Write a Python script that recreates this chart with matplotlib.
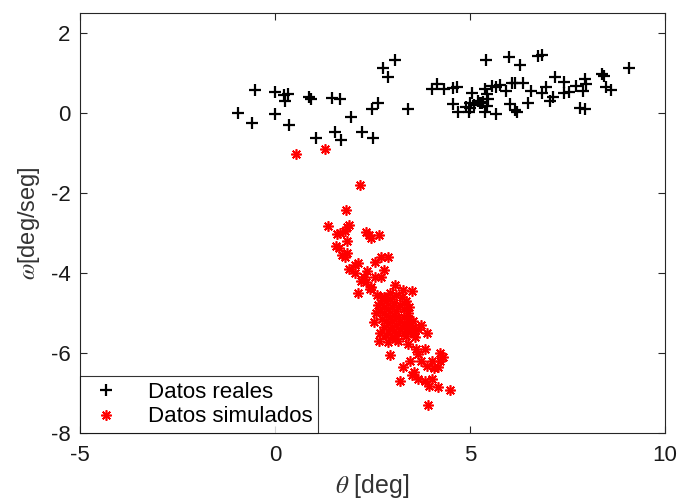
import matplotlib
matplotlib.use("Agg")
import matplotlib.pyplot as plt

plt.rcParams['font.family'] = ['Liberation Sans', 'DejaVu Sans']
plt.rcParams['mathtext.fontset'] = 'stix'
plt.rcParams['axes.unicode_minus'] = False

# Measured angle / angular velocity
theta_real = [-0.95, -0.52, -0.59, 0.00, -0.01, 0.22, 0.33, 0.25, 0.35, 0.87,
              0.92, 1.05, 1.47, 1.66, 1.55, 1.70, 1.96, 2.22, 2.51, 2.50,
              2.63, 2.76, 3.09, 2.91, 3.42, 4.03, 4.15, 4.33, 4.57, 4.68,
              4.56, 4.70, 4.98, 4.91, 4.99, 5.06, 5.26, 5.34, 5.40, 5.38,
              5.43, 5.47, 5.43, 5.38, 5.56, 5.68, 5.77, 5.68, 5.92, 6.01,
              6.07, 6.15, 6.03, 6.15, 6.21, 6.28, 6.35, 6.49, 6.56, 6.75,
              6.84, 6.84, 6.95, 7.05, 7.14, 7.18, 7.41, 7.41, 7.54, 7.73,
              7.90, 7.96, 7.99, 7.82, 7.95, 8.38, 8.45, 8.50, 8.61, 9.09,
              5.10, 5.20, 5.30, 5.00]
omega_real = [0.00, 0.58, -0.26, 0.52, -0.02, 0.44, 0.47, 0.29, -0.30, 0.39,
              0.35, -0.62, 0.37, 0.34, -0.47, -0.68, -0.10, -0.47, -0.62, 0.11,
              0.25, 1.13, 1.32, 0.91, 0.11, 0.60, 0.72, 0.61, 0.63, 0.65,
              0.22, 0.02, 0.03, 0.14, 0.26, 0.50, 0.26, 0.28, 1.32, 0.60,
              0.47, 0.35, 0.18, 0.02, 0.68, 0.64, 0.69, -0.02, 0.55, 1.40,
              0.74, 0.74, 0.22, 0.08, 0.03, 1.21, 0.74, 0.26, 0.55, 1.42,
              1.44, 0.51, 0.66, 0.31, 0.39, 0.91, 0.78, 0.50, 0.53, 0.68,
              0.55, 0.86, 0.72, 0.12, 0.10, 0.97, 0.93, 0.64, 0.57, 1.13,
              0.20, 0.30, 0.24, 0.12]

# Simulated angle / angular velocity
theta_sim = [0.54, 1.28, 2.17, 1.83, 1.37, 1.90, 1.86, 1.79, 1.67, 1.60,
             2.34, 2.40, 2.46, 2.66, 1.84, 1.56, 1.65, 1.86, 1.79, 1.73,
             2.57, 2.73, 2.90, 1.90, 2.06, 2.12, 2.79, 2.73, 2.29, 2.34,
             2.57, 2.12, 3.07, 3.29, 3.52, 2.46, 2.62, 2.79, 2.54, 2.68,
             2.90, 3.07, 2.96, 3.40, 3.74, 3.91, 3.68, 3.35, 3.57, 3.63,
             3.68, 3.46, 3.74, 4.02, 4.24, 4.24, 4.30, 4.18, 3.29, 3.57,
             3.21, 3.52, 3.68, 3.85, 4.02, 3.96, 4.18, 4.50, 3.93, 3.91,
             4.07, 3.85,
             2.75, 2.85, 2.95, 3.05, 2.80, 2.90, 3.00, 3.10, 2.70, 2.85,
             2.95, 3.05, 3.15, 2.75, 2.90, 3.00, 3.10, 3.20, 2.80, 2.95,
             3.05, 3.25, 3.35, 3.15, 2.85, 3.00, 3.30, 3.40, 3.20, 3.30,
             3.40, 3.35, 3.25, 3.45, 3.50, 3.55, 3.10, 2.95, 3.15, 2.70,
             2.65, 3.30, 3.45, 2.60, 3.55, 3.60, 2.20, 2.45, 2.35, 2.05]
omega_sim = [-1.02, -0.91, -1.80, -2.42, -2.83, -2.80, -2.86, -2.94, -3.00, -3.02,
             -2.97, -3.06, -3.12, -3.06, -3.20, -3.33, -3.38, -3.49, -3.60, -3.55,
             -3.72, -3.60, -3.60, -3.89, -3.81, -3.76, -3.93, -4.09, -4.09, -4.22,
             -4.09, -4.51, -4.30, -4.42, -4.46, -4.34, -4.55, -4.59, -5.22, -5.70,
             -5.72, -5.66, -6.05, -5.78, -5.29, -5.49, -5.41, -5.58, -5.49, -5.91,
             -6.03, -6.19, -6.19, -6.19, -6.19, -5.99, -6.11, -6.36, -6.36, -6.48,
             -6.69, -6.56, -6.65, -6.69, -6.65, -6.82, -6.85, -6.92, -7.29, -6.32,
             -6.38, -5.91,
             -4.62, -4.70, -4.65, -4.75, -4.85, -4.90, -4.85, -4.95, -4.95, -5.05,
             -5.10, -5.05, -5.10, -5.15, -5.25, -5.20, -5.30, -5.20, -5.35, -5.40,
             -5.45, -5.35, -5.30, -5.50, -5.55, -5.60, -5.50, -5.45, -4.80, -4.90,
             -5.00, -4.70, -4.60, -5.15, -5.30, -5.20, -4.55, -4.50, -5.70, -5.50,
             -4.80, -5.10, -4.85, -5.00, -5.45, -5.60, -4.20, -4.40, -3.95, -4.00]

fig = plt.figure(figsize=(6.84, 5.04), dpi=100)
ax = fig.add_axes([0.117, 0.141, 0.855, 0.833])

# asterisk marker: plus and cross spokes combined
asterisk = (8, 2, 0)

ax.plot(theta_real, omega_real, linestyle='none', marker='+', color='black',
        markersize=8, markeredgewidth=1.6, label='Datos reales')
ax.plot(theta_sim, omega_sim, linestyle='none', marker=asterisk, color='red',
        markersize=7.5, markeredgewidth=1.2, label='Datos simulados')

ax.set_xlim(-5, 10)
ax.set_ylim(-8, 2.5)
ax.set_xticks([-5, 0, 5, 10])
ax.set_yticks([-8, -6, -4, -2, 0, 2])
ax.tick_params(direction='in', top=True, right=True, labelsize=16,
               length=5, width=0.8, colors='#262626', labelcolor='#1a1a1a')
ax.tick_params(axis='x', pad=9)
ax.tick_params(axis='y', pad=7)
for s in ax.spines.values():
    s.set_color('#262626')
    s.set_linewidth(0.8)

ax.set_xlabel(r'$\theta$ [deg]', fontsize=18, color='#333333', labelpad=4)
ax.set_ylabel(r'$\omega$[deg/seg]', fontsize=17, color='#333333', labelpad=6)

leg = ax.legend(loc='lower left', fontsize=16, frameon=True, fancybox=False,
                borderaxespad=0, edgecolor='black', handletextpad=1.0,
                borderpad=0.25, labelspacing=0.15, handlelength=1.8)
leg.get_frame().set_linewidth(0.8)

fig.savefig('out.png', dpi=100)
